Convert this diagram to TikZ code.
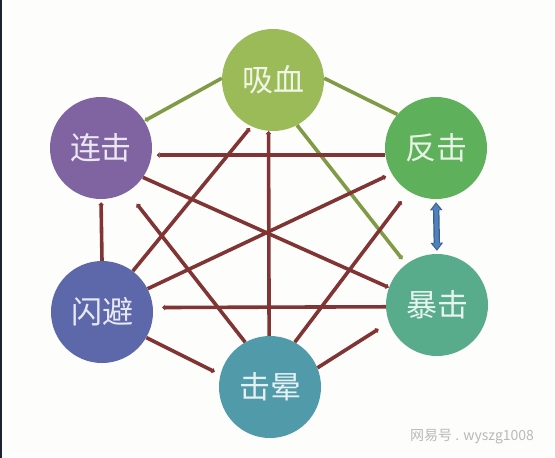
\documentclass[tikz,border=0pt]{standalone}
\usepackage{fontspec}
\newfontfamily\cjk{Noto Sans CJK SC}
\usetikzlibrary{arrows.meta}
\definecolor{cxi}{RGB}{155,187,89}
\definecolor{clian}{RGB}{128,100,162}
\definecolor{cfan}{RGB}{94,176,90}
\definecolor{cbao}{RGB}{88,172,140}
\definecolor{cshan}{RGB}{92,104,170}
\definecolor{cyun}{RGB}{80,154,170}
\definecolor{cred}{RGB}{128,52,52}
\definecolor{cgreen}{RGB}{128,155,70}
\definecolor{cblue}{RGB}{79,129,189}
\definecolor{cblueline}{RGB}{56,93,138}
\definecolor{cdark}{RGB}{28,34,46}
\definecolor{cbg}{RGB}{253,253,251}
\begin{document}
\begin{tikzpicture}[x=1pt,y=-1pt,
  ball/.style={circle,minimum size=102pt,inner sep=0pt,fill=#1,text=white!85!#1,
    font=\cjk\fontsize{31}{31}\selectfont},
  redline/.style={line width=3.6pt,draw=cred},
  greenline/.style={line width=3.6pt,draw=cgreen},
  arrowend/.style={-{Triangle[length=3pt,width=5.6pt]}}]
\useasboundingbox (0,0) rectangle (555,458);
\fill[cbg] (0,0) rectangle (555,458);
\fill[cdark] (0,0) rectangle (2.2,458);

\node[ball=cxi]   (xi)   at (273,80)  {吸血};
\node[ball=clian] (lian) at (101,148) {连击};
\node[ball=cfan]  (fan)  at (436,148) {反击};
\node[ball=cshan] (shan) at (102,312) {闪避};
\node[ball=cbao]  (bao)  at (437,305) {暴击};
\node[ball=cyun]  (yun)  at (270,387) {击晕};

% green connectors
\draw[greenline,arrowend] (xi.178) -- (lian.32);
\draw[greenline] (xi.2) -- (fan.139);
\draw[greenline,arrowend,shorten >=6pt] (xi.-62) -- (bao.127);

% red connectors
\draw[redline,arrowend,shorten >=5pt] (fan.188) -- (lian.-8);
\draw[redline,arrowend,shorten >=3pt] (shan.north) -- (lian.south);
\draw[redline,arrowend] (lian.-35) -- (bao.160);
\draw[redline,arrowend,shorten >=2pt] (shan.53) -- (xi.-115);
\draw[redline,arrowend] (yun.91) -- (xi.265);
\draw[redline,arrowend,shorten >=6pt] (shan.27) -- (fan.210);
\draw[redline,arrowend,shorten >=12pt] (yun.61) -- (fan.238);
\draw[redline,arrowend,shorten >=15pt] (yun.119) -- (lian.-59);
\draw[redline,arrowend,shorten >=9pt] (bao.182) -- (shan.5);
\draw[redline,arrowend,shorten >=6pt] (shan.-30) -- (yun.166);
\draw[redline,arrowend,shorten >=12pt] (yun.22) -- (bao.200);

% blue double arrow
\draw[draw=cblueline,line width=6.4pt,
  {Triangle[length=8pt,width=12pt]}-{Triangle[length=8pt,width=12pt]},
  shorten <=3pt,shorten >=3pt] (fan.south) -- (bao.north);
\draw[draw=cblue,line width=4pt,
  {Triangle[length=6pt,width=8.5pt]}-{Triangle[length=6pt,width=8.5pt]},
  shorten <=4.6pt,shorten >=4.6pt] (fan.south) -- (bao.north);

\node[font=\cjk\fontsize{14}{14}\selectfont,text=gray!55,anchor=west,inner sep=0pt]
  (wm) at (410,437) {网易号 . wyszg1008};
\end{tikzpicture}
\end{document}
